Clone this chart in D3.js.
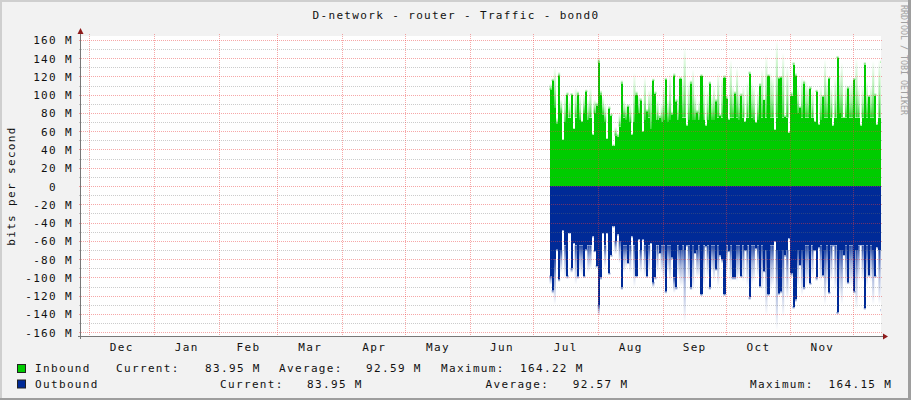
<!DOCTYPE html>
<html><head><meta charset="utf-8">
<script src="https://cdn.jsdelivr.net/npm/d3@7/dist/d3.min.js"></script>
<style>
html,body{margin:0;padding:0;background:#F2F2F2;}
svg{display:block;}
text{font-family:"DejaVu Sans Mono",monospace;}
</style></head><body>
<svg id="chart" width="911" height="400"></svg>
<script>
// ---------------- data ----------------
const title = "D-network - router - Traffic - bond0";
const yAxisLabel = "bits per second";
const watermark = "RRDTOOL / TOBI OETIKER";
const rangeStart = "2013-11-27T06:28:00Z";
const rangeEnd = "2014-12-14T05:30:00Z";
const yMin = -164.15, yMax = 164.22;           // M bits/s
const yTicks = [-160,-140,-120,-100,-80,-60,-40,-20,0,20,40,60,80,100,120,140,160];
const yMinorTicks = [-150,-130,-110,-90,-70,-50,-30,-10,10,30,50,70,90,110,130,150];
const monthStarts = ["2013-12-01","2014-01-01","2014-02-01","2014-03-01","2014-04-01","2014-05-01","2014-06-01","2014-07-01","2014-08-01","2014-09-01","2014-10-01","2014-11-01","2014-12-01"];
const monthLabels = ["Dec","Jan","Feb","Mar","Apr","May","Jun","Jul","Aug","Sep","Oct","Nov"];
const dataStart = "2014-07-09";
// daily inbound: solid level and faded peak (M bits/s)
const inSolid = [105,115,85,68,120,80,50,70,100,75,100,62,75,100,72,70,80,103,72,75,56,80,88,135,100,78,70,51,84,77,44,55,54,65,112,75,72,86,70,56,70,100,80,93,59,72,81,75,62,115,101,72,75,70,72,116,70,72,78,120,92,72,117,75,75,66,72,112,72,72,80,72,120,72,66,72,112,72,72,92,75,77,75,118,95,72,75,75,101,75,72,99,75,70,75,123,75,72,69,72,110,75,94,75,120,75,75,61,75,117,118,75,76,75,58,99,133,120,80,85,75,112,75,75,106,75,70,103,67,72,97,75,75,117,75,66,75,140,80,75,74,75,106,75,75,116,75,75,66,75,133,75,97,75,75,99,67,75,135];
const inPeak  = [112,118,130,75,125,95,52,102,103,95,102,64,108,104,100,72,100,106,95,108,58,95,92,140,105,98,90,53,88,80,46,65,58,80,116,95,90,90,90,58,124,104,100,97,61,120,85,105,112,118,104,95,78,90,111,119,95,124,82,124,96,100,120,120,153,68,115,116,128,100,84,95,123,113,68,105,115,100,110,96,124,79,120,122,100,75,138,110,104,130,105,102,110,72,115,126,115,110,71,105,113,128,95,144,123,125,120,63,160,120,121,146,78,131,60,104,136,124,110,88,120,116,115,110,110,105,72,106,69,110,100,139,115,120,110,68,120,143,125,135,76,112,110,112,115,119,140,110,68,110,136,115,100,110,137,102,69,139,138];
// daily outbound magnitude: solid level and faded peak (M bits/s, drawn below zero)
const outSolid = [98,114,80,69,102,70,48,65,98,51,90,62,65,98,65,65,98,69,65,65,55,71,87,130,100,51,65,51,95,76,44,60,53,60,111,65,65,84,65,55,65,98,58,70,58,65,98,65,62,105,100,65,73,65,65,115,65,65,78,100,111,65,70,65,70,65,65,111,65,73,70,65,118,65,66,65,111,65,65,91,65,76,80,118,65,71,65,100,100,65,65,98,65,70,65,122,65,65,68,65,109,65,93,70,118,65,65,60,70,117,115,70,76,70,57,95,132,124,70,86,70,111,65,65,106,65,70,100,67,65,97,70,65,116,65,65,65,138,70,70,75,65,105,65,65,115,70,65,64,65,133,65,97,65,70,98,67,70,135];
const outPeak  = [108,118,130,72,105,95,50,102,102,53,95,64,108,102,95,98,101,72,95,91,57,73,90,142,103,53,90,53,98,78,46,75,55,85,114,95,90,86,95,57,111,101,60,95,60,100,101,95,64,111,103,95,75,95,105,118,95,105,81,117,114,100,110,110,150,67,105,114,115,75,100,100,121,110,68,100,114,95,105,93,110,78,85,121,95,73,105,103,103,105,100,101,105,72,110,125,110,105,70,100,112,115,95,142,121,115,110,62,158,120,118,144,78,125,59,100,135,127,110,88,120,114,110,105,109,100,72,104,69,105,100,130,110,119,105,67,115,141,120,130,77,110,108,110,110,118,135,105,66,105,136,110,100,105,130,101,69,130,138];
const seriesNames = ["Inbound","Outbound"];
const seriesColors = ["#00CC00","#002A97"];
const currentVals = ["83.95 M","83.95 M"];
const averageVals = ["92.59 M","92.57 M"];
const maximumVals = ["164.22 M","164.15 M"];

// ---------------- drawing ----------------
const W = 911, H = 400;
const svg = d3.select("#chart");
const FONT = 11, LS = 1.35;
const parseDay = d3.utcParse("%Y-%m-%d");

// frame
svg.append("rect").attr("width",W).attr("height",H).attr("fill","#F2F2F2");
svg.append("rect").attr("x",0).attr("y",0).attr("width",W).attr("height",2).attr("fill","#CFCFCF");
svg.append("rect").attr("x",0).attr("y",0).attr("width",2).attr("height",H).attr("fill","#CFCFCF");
svg.append("rect").attr("x",W-3).attr("y",0).attr("width",3).attr("height",H).attr("fill","#9E9E9E");
svg.append("rect").attr("x",0).attr("y",H-2).attr("width",W).attr("height",2).attr("fill","#9E9E9E");

const L = 81, R = 881, T = 36, B = 336;
const x = d3.scaleUtc().domain([new Date(rangeStart), new Date(rangeEnd)]).range([L, R]);
const y = d3.scaleLinear().domain([yMin, yMax]).range([B, T]);

svg.append("rect").attr("x",L).attr("y",T).attr("width",R-L).attr("height",B-T).attr("fill","#FFFFFF");

const defs = svg.append("defs");
defs.append("clipPath").attr("id","plotclip").append("rect").attr("x",L).attr("y",T).attr("width",R-L).attr("height",B-T);
const gIn = defs.append("linearGradient").attr("id","gin").attr("x1",0).attr("y1",1).attr("x2",0).attr("y2",0);
gIn.append("stop").attr("offset","0").attr("stop-color",seriesColors[0]).attr("stop-opacity",0.85);
gIn.append("stop").attr("offset","0.45").attr("stop-color",seriesColors[0]).attr("stop-opacity",0.35);
gIn.append("stop").attr("offset","1").attr("stop-color",seriesColors[0]).attr("stop-opacity",0);
const gOut = defs.append("linearGradient").attr("id","gout").attr("x1",0).attr("y1",0).attr("x2",0).attr("y2",1);
gOut.append("stop").attr("offset","0").attr("stop-color",seriesColors[1]).attr("stop-opacity",0.85);
gOut.append("stop").attr("offset","0.45").attr("stop-color",seriesColors[1]).attr("stop-opacity",0.35);
gOut.append("stop").attr("offset","1").attr("stop-color",seriesColors[1]).attr("stop-opacity",0);

const d0 = parseDay(dataStart);
const days = inSolid.map((v,i)=>({
  t0: d3.utcDay.offset(d0,i), t1: d3.utcDay.offset(d0,i+1),
  is: v, ip: inPeak[i], os: outSolid[i], op: outPeak[i]
}));

const plot = svg.append("g").attr("clip-path","url(#plotclip)").attr("shape-rendering","crispEdges");
const bx = d => x(d.t0), bw = d => x(d.t1) - x(d.t0) + 0.05;
// inbound fades
plot.selectAll(".inf").data(days).join("rect").attr("x",bx).attr("width",bw)
  .attr("y",d=>y(d.ip)).attr("height",d=>Math.max(0,y(d.is)-y(d.ip))).attr("fill","url(#gin)").attr("shape-rendering","auto");
plot.selectAll(".ins").data(days).join("rect").attr("x",bx).attr("width",bw)
  .attr("y",d=>y(d.is)).attr("height",d=>y(0)-y(d.is)).attr("fill",seriesColors[0]);
plot.selectAll(".outf").data(days).join("rect").attr("x",bx).attr("width",bw)
  .attr("y",d=>y(-d.os)).attr("height",d=>Math.max(0,y(-d.op)-y(-d.os))).attr("fill","url(#gout)").attr("shape-rendering","auto");
plot.selectAll(".outs").data(days).join("rect").attr("x",bx).attr("width",bw)
  .attr("y",y(0)).attr("height",d=>y(-d.os)-y(0)).attr("fill",seriesColors[1]);

// grid (drawn over data)
const grid = svg.append("g").attr("shape-rendering","crispEdges");
grid.selectAll(".hmin").data(yMinorTicks).join("line")
  .attr("x1",L-2).attr("x2",R+2).attr("y1",d=>Math.round(y(d))+0.5).attr("y2",d=>Math.round(y(d))+0.5)
  .attr("stroke","rgba(110,110,110,0.35)").attr("stroke-dasharray","1,1");
grid.selectAll(".hmaj").data(yTicks).join("line")
  .attr("x1",L-2).attr("x2",R+2).attr("y1",d=>Math.round(y(d))+0.5).attr("y2",d=>Math.round(y(d))+0.5)
  .attr("stroke","rgba(235,60,60,0.45)").attr("stroke-dasharray","1,1");
grid.selectAll(".vmaj").data(monthStarts.map(parseDay)).join("line")
  .attr("y1",T-2).attr("y2",B+2).attr("x1",d=>Math.round(x(d))+0.5).attr("x2",d=>Math.round(x(d))+0.5)
  .attr("stroke","rgba(235,60,60,0.45)").attr("stroke-dasharray","1,1");

// axes lines + arrows
svg.append("line").attr("x1",L-0.5).attr("x2",L-0.5).attr("y1",T-2).attr("y2",B+3).attr("stroke","#777").attr("shape-rendering","crispEdges");
svg.append("line").attr("x1",L-3).attr("x2",R+3).attr("y1",B+0.5).attr("y2",B+0.5).attr("stroke","#777").attr("shape-rendering","crispEdges");
svg.append("path").attr("d",`M${L-0.5},${T-8} L${L-3.5},${T-2} L${L+2.5},${T-2} Z`).attr("fill","#8E1B1B");
svg.append("path").attr("d",`M${R+7},${B+0.5} L${R+2},${B-2.5} L${R+2},${B+3.5} Z`).attr("fill","#8E1B1B");

// y axis labels
const yAxis = d3.axisLeft(y).tickValues(yTicks).tickSize(0).tickPadding(8)
  .tickFormat(v => v === 0 ? "0\u00A0\u00A0" : `${v} M`);
const gy = svg.append("g").attr("transform",`translate(${L},0)`).call(yAxis);
gy.select(".domain").remove();
gy.selectAll("text").attr("font-family","DejaVu Sans Mono").attr("font-size",FONT)
  .attr("letter-spacing",LS).attr("fill","#111").attr("dy","0.36em");

// x axis labels (mid-month)
const mids = monthLabels.map((m,i)=>{const a=parseDay(monthStarts[i]), b=parseDay(monthStarts[i+1]); return new Date((+a + +b)/2);});
const xAxis = d3.axisBottom(x).tickValues(mids).tickSize(0).tickPadding(7)
  .tickFormat((d,i)=>monthLabels[i]);
const gx = svg.append("g").attr("transform",`translate(0,${B})`).call(xAxis);
gx.select(".domain").remove();
gx.selectAll("text").attr("font-family","DejaVu Sans Mono").attr("font-size",FONT)
  .attr("letter-spacing",LS).attr("fill","#111");

// title, y label, watermark
svg.append("text").attr("x",456).attr("y",19.3).attr("text-anchor","middle")
  .attr("font-size",FONT).attr("letter-spacing",LS).attr("fill","#111").text(title);
svg.append("text").attr("transform","translate(14.5,186) rotate(-90)").attr("text-anchor","middle")
  .attr("font-size",FONT).attr("letter-spacing",LS).attr("fill","#111").text(yAxisLabel);
svg.append("text").attr("transform","translate(900.5,5) rotate(90)").attr("text-anchor","start")
  .attr("font-size",8.3).attr("fill","#A0A0A0").text(watermark);

// legend
const rows = [
  {yb:372.3, xs:[35,116,205,279,366,441,520]},
  {yb:387.8, xs:[35,220,307,485.5,572.7,750,828.5]}
];
seriesNames.forEach((name,i)=>{
  const r = rows[i];
  svg.append("rect").attr("x",17.5).attr("y",r.yb-7.8).attr("width",8).attr("height",8)
    .attr("fill",seriesColors[i]).attr("stroke","#222").attr("stroke-width",1);
  const parts = [name,"Current:",currentVals[i],"Average:",averageVals[i],"Maximum:",maximumVals[i]];
  parts.forEach((p,j)=>{
    svg.append("text").attr("x",r.xs[j]).attr("y",r.yb).attr("font-size",FONT)
      .attr("letter-spacing",LS).attr("fill","#111").text(p);
  });
});
</script>
</body></html>
